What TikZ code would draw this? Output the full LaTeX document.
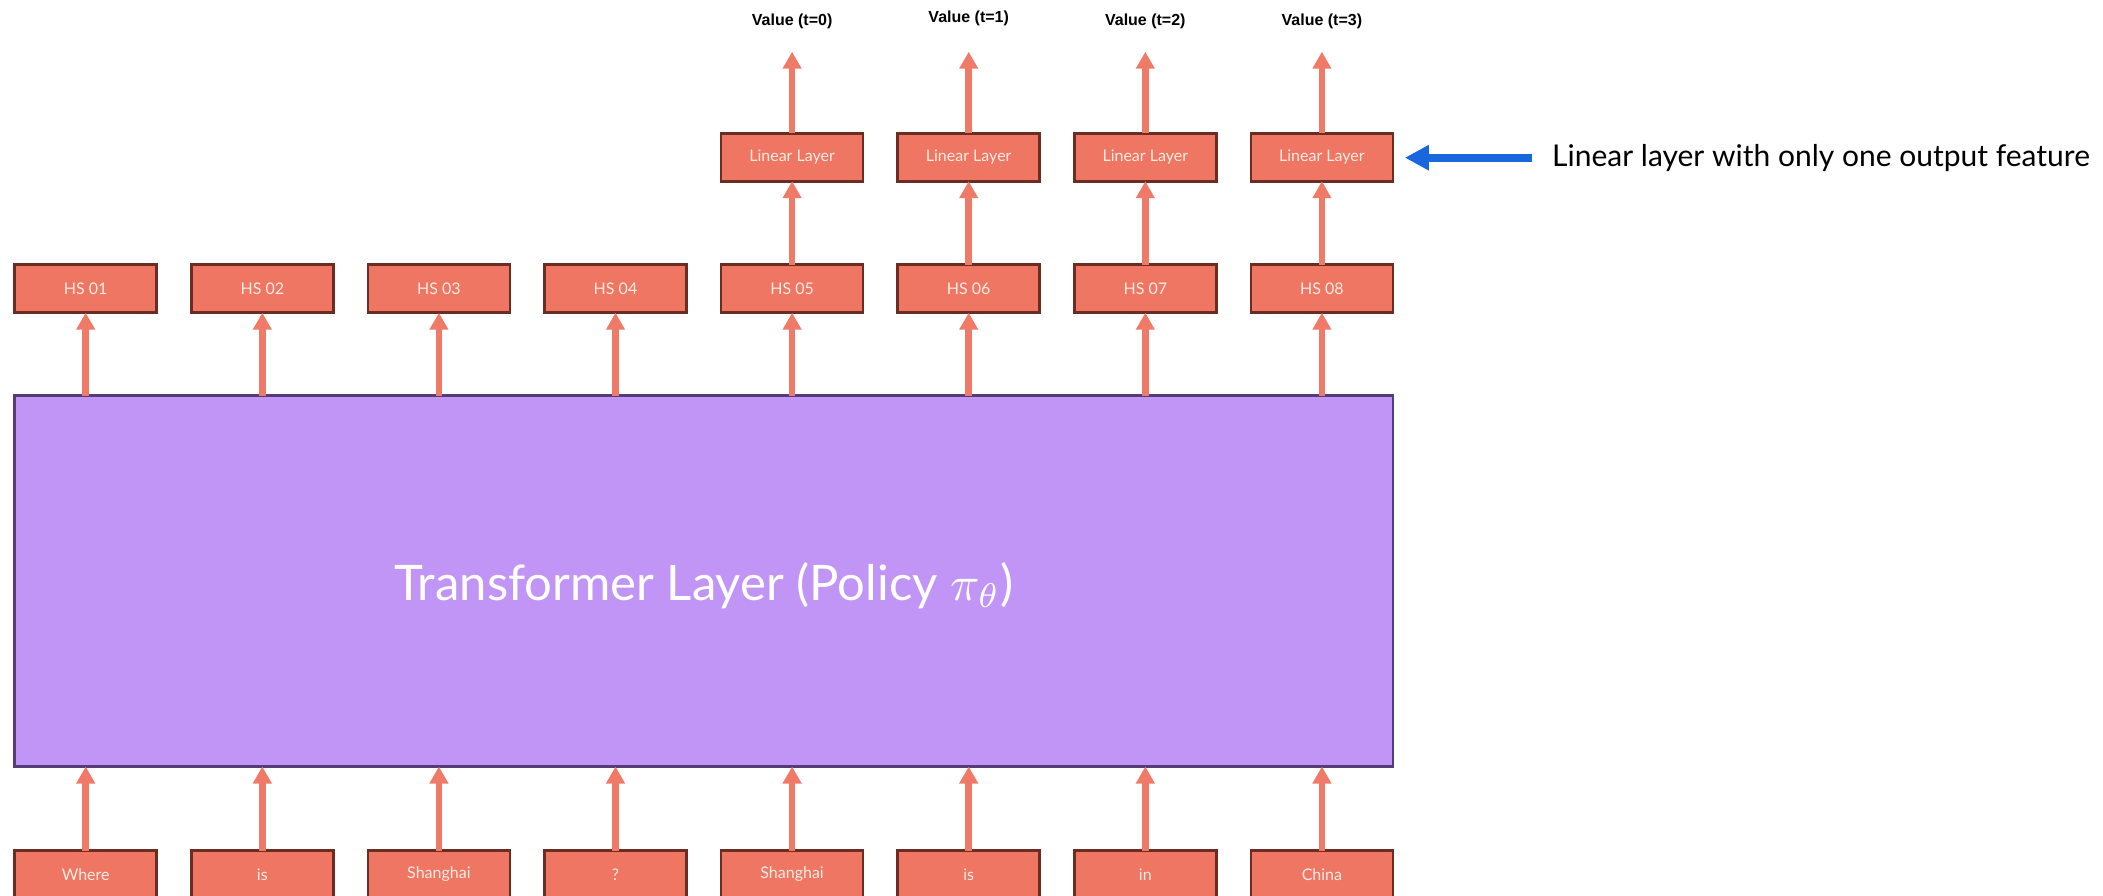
\documentclass[tikz,border=0pt]{standalone}
\usepackage{fontspec}
\setmainfont{Lato}
\newfontfamily\valuefont{Liberation Sans}
\usetikzlibrary{arrows.meta}

\definecolor{boxfill}{RGB}{238,118,98}
\definecolor{boxedge}{RGB}{107,44,34}
\definecolor{arrowc}{RGB}{240,122,104}
\definecolor{purplefill}{RGB}{193,149,246}
\definecolor{purpleedge}{RGB}{84,60,118}
\definecolor{boxtext}{RGB}{255,236,228}
\definecolor{bluearrow}{RGB}{24,103,221}

% policy symbol set at 10pt and scaled up to the label size
\newcommand{\policysym}{\scalebox{4.9}{\fontsize{10}{12}\selectfont$\pi_\theta$}}

\tikzset{
  tokbox/.style={draw=boxedge, fill=boxfill, line width=2.7pt,
    minimum width=142pt, minimum height=48pt, inner sep=0pt, outer sep=0pt,
    text=boxtext, font=\fontsize{16}{19}\selectfont},
  tfbox/.style={draw=purpleedge, fill=purplefill, line width=2.5pt,
    minimum width=1378.5pt, minimum height=371pt, inner sep=0pt, outer sep=0pt},
  tftext/.style={text=white, font=\fontsize{49}{58}\selectfont, inner sep=0pt},
  valtext/.style={anchor=base, inner sep=0pt,
    font=\valuefont\bfseries\fontsize{16}{19}\selectfont},
  upar/.style={draw=arrowc, line width=6.7pt,
    -{Triangle[width=18pt,length=17pt]}},
  notear/.style={draw=bluearrow, line width=8pt,
    -{Triangle[width=24pt,length=24pt]}},
  notetext/.style={anchor=west, inner sep=0pt,
    font=\fontsize{30}{35}\selectfont}
}

\begin{document}
\begin{tikzpicture}[x=1pt, y=-1pt]
\useasboundingbox (0,0) rectangle (2103,896);

% transformer block
\node[tfbox] (tl) at (703.8,581) {};
\node[tftext, anchor=base] (tllabel) at (703.8,600) {Transformer Layer (Policy \policysym)};

% input tokens, hidden states and the arrows between them
\foreach \i/\w in {1/Where,2/is,3/Shanghai,4/?,5/Shanghai,6/is,7/in,8/China}{
  \pgfmathsetmacro\xx{85.7+176.6*(\i-1)}
  \node[tokbox] (tok\i) at (\xx,874.5) {\w};
  \node[tokbox] (hs\i) at (\xx,288.7) {HS 0\i};
  \draw[upar] (tok\i.north) -- (tok\i.north |- tl.south);
  \draw[upar] (hs\i.south |- tl.north) -- (hs\i.south);
}

% value heads on the last four hidden states
\foreach \i/\t/\yb in {5/0/25.7,6/1/23,7/2/25.7,8/3/25.7}{
  \pgfmathsetmacro\xx{85.7+176.6*(\i-1)}
  \node[tokbox] (lin\i) at (\xx,157.2) {Linear Layer};
  \draw[upar] (hs\i.north) -- (lin\i.south);
  \coordinate (tip\i) at (\xx,51.7);
  \draw[upar] (lin\i.north) -- (tip\i);
  \node[valtext] (val\i) at (\xx,\yb) {Value (t=\t)};
}

% annotation
\coordinate (notetail) at (1532,157.7);
\draw[notear, shorten >=12pt] (notetail) -- (notetail -| lin8.east);
\node[notetext] (note) at (1552,157.7) {Linear layer with only one output feature};
\end{tikzpicture}
\end{document}
